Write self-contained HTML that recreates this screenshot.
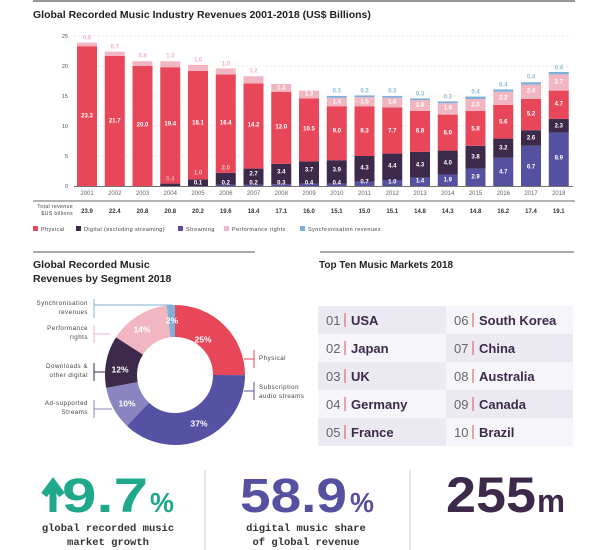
<!DOCTYPE html>
<html><head><meta charset="utf-8"><style>
html,body{margin:0;padding:0;background:#fff;}
svg{display:block;font-family:"Liberation Sans",sans-serif;}
.yl{font-size:5.5px;fill:#555;text-anchor:end}
.yr{font-size:6px;fill:#666;text-anchor:middle}
.tv{font-size:6px;fill:#333;font-weight:bold;text-anchor:middle}
.w{font-size:6px;fill:#fff;font-weight:bold;text-anchor:middle;dominant-baseline:middle}
.pk{font-size:6px;fill:#f2b6c3;font-weight:bold;text-anchor:middle;dominant-baseline:middle}
.bl{font-size:6px;fill:#8cbcd8;font-weight:bold;text-anchor:middle;dominant-baseline:middle}
.lg{font-size:5.5px;fill:#444;letter-spacing:0.4px}
.dl{font-size:6.2px;fill:#444;letter-spacing:0.5px}
.pc{font-size:8.5px;fill:#fff;font-weight:bold;text-anchor:middle;dominant-baseline:middle}
.num{font-size:13px;fill:#666}
.nm{font-size:13px;fill:#3d2a4a;font-weight:bold}
.sub{font-family:"Liberation Mono",monospace;font-size:10.5px;fill:#333;font-weight:bold;text-anchor:middle}
</style></head><body>
<svg width="600" height="550" viewBox="0 0 600 550">
<line x1="33" y1="1" x2="575" y2="1" stroke="#777" stroke-width="1.5"/>
<text x="33" y="18" font-size="10.5" font-weight="bold" fill="#222">Global Recorded Music Industry Revenues 2001-2018 (US$ Billions)</text>
<g stroke="#ddd" stroke-dasharray="2,2" stroke-width="0.6">
<line x1="74" y1="36" x2="573" y2="36"/><line x1="74" y1="66" x2="573" y2="66"/><line x1="74" y1="96" x2="573" y2="96"/><line x1="74" y1="126" x2="573" y2="126"/><line x1="74" y1="156" x2="573" y2="156"/></g>
<text class="yl" x="68" y="38">25</text><text class="yl" x="68" y="68">20</text><text class="yl" x="68" y="98">15</text><text class="yl" x="68" y="128">10</text><text class="yl" x="68" y="158">5</text><text class="yl" x="68" y="188">0</text>
<line x1="74" y1="186.5" x2="573" y2="186.5" stroke="#444" stroke-width="0.8"/>
<!-- bars -->
<g transform="translate(77,0)"><rect y="46.2" width="20" height="139.8" fill="#e8475a"/><rect y="42.6" width="20" height="3.6" fill="#f2b6c3"/><text class="w" x="10" y="116">23.3</text><text class="pk" x="10" y="38">0.6</text></g>
<g transform="translate(104.75,0)"><rect y="55.8" width="20" height="130.2" fill="#e8475a"/><rect y="51.6" width="20" height="4.2" fill="#f2b6c3"/><text class="w" x="10" y="121">21.7</text><text class="pk" x="10" y="47">0.7</text></g>
<g transform="translate(132.5,0)"><rect y="66" width="20" height="120" fill="#e8475a"/><rect y="61.2" width="20" height="4.8" fill="#f2b6c3"/><text class="w" x="10" y="125">20.0</text><text class="pk" x="10" y="56">0.8</text></g>
<g transform="translate(160.25,0)"><rect y="183.6" width="20" height="2.4" fill="#3d2a4a"/><rect y="67.2" width="20" height="116.4" fill="#e8475a"/><rect y="61.2" width="20" height="6" fill="#f2b6c3"/><text class="w" x="10" y="124">19.4</text><text class="pk" x="10" y="56">1.0</text><text class="w" x="10" y="179" style="fill:#e8a0a8">0.4</text></g>
<g transform="translate(188,0)"><rect y="179.4" width="20" height="6.6" fill="#3d2a4a"/><rect y="70.8" width="20" height="108.6" fill="#e8475a"/><rect y="64.8" width="20" height="6" fill="#f2b6c3"/><text class="w" x="10" y="123">18.1</text><text class="pk" x="10" y="60">1.0</text><text class="w" x="10" y="173" style="fill:#f4c0c6">1.0</text><text class="w" x="10" y="183">0.1</text></g>
<g transform="translate(215.75,0)"><rect y="184.8" width="20" height="1.2" fill="#5551a0"/><rect y="172.8" width="20" height="12" fill="#3d2a4a"/><rect y="74.4" width="20" height="98.4" fill="#e8475a"/><rect y="68.4" width="20" height="6" fill="#f2b6c3"/><text class="w" x="10" y="123">16.4</text><text class="pk" x="10" y="64">1.0</text><text class="w" x="10" y="168" style="fill:#f4c0c6">2.0</text><text class="w" x="10" y="183">0.2</text></g>
<g transform="translate(243.5,0)"><rect y="184.8" width="20" height="1.2" fill="#5551a0"/><rect y="168.6" width="20" height="16.2" fill="#3d2a4a"/><rect y="83.4" width="20" height="85.2" fill="#e8475a"/><rect y="76.2" width="20" height="7.2" fill="#f2b6c3"/><text class="w" x="10" y="125">14.2</text><text class="pk" x="10" y="71">1.2</text><text class="w" x="10" y="174">2.7</text><text class="w" x="10" y="183">0.2</text></g>
<g transform="translate(271.25,0)"><rect y="184.2" width="20" height="1.8" fill="#5551a0"/><rect y="163.8" width="20" height="20.4" fill="#3d2a4a"/><rect y="91.8" width="20" height="72" fill="#e8475a"/><rect y="84" width="20" height="7.8" fill="#f2b6c3"/><text class="w" x="10" y="127">12.0</text><text class="w" x="10" y="88">1.3</text><text class="w" x="10" y="172">3.4</text><text class="w" x="10" y="183">0.3</text></g>
<g transform="translate(299,0)"><rect y="183.6" width="20" height="2.4" fill="#5551a0"/><rect y="161.4" width="20" height="22.2" fill="#3d2a4a"/><rect y="98.4" width="20" height="63" fill="#e8475a"/><rect y="90.6" width="20" height="7.8" fill="#f2b6c3"/><text class="w" x="10" y="129">10.5</text><text class="w" x="10" y="94">1.3</text><text class="w" x="10" y="170">3.7</text><text class="w" x="10" y="183">0.4</text></g>
<g transform="translate(326.75,0)"><rect y="183.6" width="20" height="2.4" fill="#5551a0"/><rect y="160.2" width="20" height="23.4" fill="#3d2a4a"/><rect y="106.2" width="20" height="54" fill="#e8475a"/><rect y="97.8" width="20" height="8.4" fill="#f2b6c3"/><rect y="96" width="20" height="1.8" fill="#7fb0d8"/><text class="w" x="10" y="131">9.0</text><text class="w" x="10" y="102">1.4</text><text class="bl" x="10" y="91">0.3</text><text class="w" x="10" y="170">3.9</text><text class="w" x="10" y="183">0.4</text></g>
<g transform="translate(354.5,0)"><rect y="181.8" width="20" height="4.2" fill="#5551a0"/><rect y="156" width="20" height="25.8" fill="#3d2a4a"/><rect y="106.2" width="20" height="49.8" fill="#e8475a"/><rect y="97.2" width="20" height="9" fill="#f2b6c3"/><rect y="95.4" width="20" height="1.8" fill="#7fb0d8"/><text class="w" x="10" y="131">8.3</text><text class="w" x="10" y="102">1.5</text><text class="bl" x="10" y="91">0.3</text><text class="w" x="10" y="168">4.3</text><text class="w" x="10" y="182">0.7</text></g>
<g transform="translate(382.25,0)"><rect y="180" width="20" height="6" fill="#5551a0"/><rect y="153.6" width="20" height="26.4" fill="#3d2a4a"/><rect y="107.4" width="20" height="46.2" fill="#e8475a"/><rect y="97.8" width="20" height="9.6" fill="#f2b6c3"/><rect y="96" width="20" height="1.8" fill="#7fb0d8"/><text class="w" x="10" y="131">7.7</text><text class="w" x="10" y="102">1.6</text><text class="bl" x="10" y="91">0.3</text><text class="w" x="10" y="166">4.4</text><text class="w" x="10" y="182">1.0</text></g>
<g transform="translate(410,0)"><rect y="177.6" width="20" height="8.4" fill="#5551a0"/><rect y="151.8" width="20" height="25.8" fill="#3d2a4a"/><rect y="111" width="20" height="40.8" fill="#e8475a"/><rect y="100.2" width="20" height="10.8" fill="#f2b6c3"/><rect y="98.4" width="20" height="1.8" fill="#7fb0d8"/><text class="w" x="10" y="131">6.8</text><text class="w" x="10" y="105">1.8</text><text class="bl" x="10" y="94">0.3</text><text class="w" x="10" y="165">4.3</text><text class="w" x="10" y="181">1.4</text></g>
<g transform="translate(437.75,0)"><rect y="174.6" width="20" height="11.4" fill="#5551a0"/><rect y="150.6" width="20" height="24" fill="#3d2a4a"/><rect y="114.6" width="20" height="36" fill="#e8475a"/><rect y="103.2" width="20" height="11.4" fill="#f2b6c3"/><rect y="101.4" width="20" height="1.8" fill="#7fb0d8"/><text class="w" x="10" y="133">6.0</text><text class="w" x="10" y="108">1.9</text><text class="bl" x="10" y="97">0.3</text><text class="w" x="10" y="163">4.0</text><text class="w" x="10" y="180">1.9</text></g>
<g transform="translate(465.5,0)"><rect y="168.6" width="20" height="17.4" fill="#5551a0"/><rect y="145.8" width="20" height="22.8" fill="#3d2a4a"/><rect y="111" width="20" height="34.8" fill="#e8475a"/><rect y="99" width="20" height="12" fill="#f2b6c3"/><rect y="96.6" width="20" height="2.4" fill="#7fb0d8"/><text class="w" x="10" y="129">5.8</text><text class="w" x="10" y="105">2.0</text><text class="bl" x="10" y="92">0.4</text><text class="w" x="10" y="157">3.8</text><text class="w" x="10" y="177">2.9</text></g>
<g transform="translate(493.25,0)"><rect y="157.8" width="20" height="28.2" fill="#5551a0"/><rect y="138.6" width="20" height="19.2" fill="#3d2a4a"/><rect y="105" width="20" height="33.6" fill="#e8475a"/><rect y="91.8" width="20" height="13.2" fill="#f2b6c3"/><rect y="89.4" width="20" height="2.4" fill="#7fb0d8"/><text class="w" x="10" y="122">5.6</text><text class="w" x="10" y="98">2.2</text><text class="bl" x="10" y="85">0.4</text><text class="w" x="10" y="148">3.2</text><text class="w" x="10" y="172">4.7</text></g>
<g transform="translate(521,0)"><rect y="145.8" width="20" height="40.2" fill="#5551a0"/><rect y="130.2" width="20" height="15.6" fill="#3d2a4a"/><rect y="99" width="20" height="31.2" fill="#e8475a"/><rect y="84.6" width="20" height="14.4" fill="#f2b6c3"/><rect y="82.2" width="20" height="2.4" fill="#7fb0d8"/><text class="w" x="10" y="114">5.2</text><text class="w" x="10" y="91">2.4</text><text class="bl" x="10" y="77">0.4</text><text class="w" x="10" y="138">2.6</text><text class="w" x="10" y="167">6.7</text></g>
<g transform="translate(548.75,0)"><rect y="132.6" width="20" height="53.4" fill="#5551a0"/><rect y="118.8" width="20" height="13.8" fill="#3d2a4a"/><rect y="90.6" width="20" height="28.2" fill="#e8475a"/><rect y="74.4" width="20" height="16.2" fill="#f2b6c3"/><rect y="72" width="20" height="2.4" fill="#7fb0d8"/><text class="w" x="10" y="104">4.7</text><text class="w" x="10" y="82">2.7</text><text class="bl" x="10" y="68">0.4</text><text class="w" x="10" y="126">2.3</text><text class="w" x="10" y="158">8.9</text></g>
<!-- years -->
<g class="yr"><text x="87" y="195">2001</text><text x="114.75" y="195">2002</text><text x="142.5" y="195">2003</text><text x="170.25" y="195">2004</text><text x="198" y="195">2005</text><text x="225.75" y="195">2006</text><text x="253.5" y="195">2007</text><text x="281.25" y="195">2008</text><text x="309" y="195">2009</text><text x="336.75" y="195">2010</text><text x="364.5" y="195">2011</text><text x="392.25" y="195">2012</text><text x="420" y="195">2013</text><text x="447.75" y="195">2014</text><text x="475.5" y="195">2015</text><text x="503.25" y="195">2016</text><text x="531" y="195">2017</text><text x="558.75" y="195">2018</text></g>
<line x1="33" y1="201" x2="575" y2="201" stroke="#888" stroke-width="1.2"/>
<text x="73" y="208" font-size="5.3" fill="#444" text-anchor="end" letter-spacing="0.3">Total revenue</text>
<text x="73" y="215" font-size="5.3" fill="#444" text-anchor="end" letter-spacing="0.3">$US billions</text>
<g class="tv"><text x="87" y="213">23.9</text><text x="114.75" y="213">22.4</text><text x="142.5" y="213">20.8</text><text x="170.25" y="213">20.8</text><text x="198" y="213">20.2</text><text x="225.75" y="213">19.6</text><text x="253.5" y="213">18.4</text><text x="281.25" y="213">17.1</text><text x="309" y="213">16.0</text><text x="336.75" y="213">15.1</text><text x="364.5" y="213">15.0</text><text x="392.25" y="213">15.1</text><text x="420" y="213">14.8</text><text x="447.75" y="213">14.3</text><text x="475.5" y="213">14.8</text><text x="503.25" y="213">16.2</text><text x="531" y="213">17.4</text><text x="558.75" y="213">19.1</text></g>
<!-- legend -->
<rect x="33" y="226" width="5" height="5" fill="#e8475a"/><text class="lg" x="41" y="231">Physical</text>
<rect x="76" y="226" width="5" height="5" fill="#3d2a4a"/><text class="lg" x="84" y="231">Digital (excluding streaming)</text>
<rect x="178" y="226" width="5" height="5" fill="#5551a0"/><text class="lg" x="186" y="231">Streaming</text>
<rect x="224" y="226" width="5" height="5" fill="#f2b6c3"/><text class="lg" x="232" y="231">Performance rights</text>
<rect x="300" y="226" width="5" height="5" fill="#7fb0d8"/><text class="lg" x="308" y="231">Synchronisation revenues</text>
<!-- donut section -->
<line x1="33" y1="252" x2="255" y2="252" stroke="#777" stroke-width="1.2"/>
<text x="33" y="268" font-size="10.5" font-weight="bold" fill="#222">Global Recorded Music</text>
<text x="33" y="282" font-size="10.5" font-weight="bold" fill="#222">Revenues by Segment 2018</text>
<g transform="translate(175,375) rotate(-90)" fill="none" stroke-width="32">
<circle r="54" stroke="#e8475a" stroke-dasharray="84.8 400" stroke-dashoffset="0"/>
<circle r="54" stroke="#5652a3" stroke-dasharray="125.5 400" stroke-dashoffset="-84.8"/>
<circle r="54" stroke="#8a84c0" stroke-dasharray="33.9 400" stroke-dashoffset="-210.3"/>
<circle r="54" stroke="#3d2a4a" stroke-dasharray="40.7 400" stroke-dashoffset="-244.2"/>
<circle r="54" stroke="#f2b6c3" stroke-dasharray="47.5 400" stroke-dashoffset="-284.9"/>
<circle r="54" stroke="#7fb0d8" stroke-dasharray="6.9 400" stroke-dashoffset="-332.4"/>
</g>
<text class="pc" x="203" y="340">25%</text><text class="pc" x="199" y="424">37%</text><text class="pc" x="127" y="404">10%</text><text class="pc" x="120" y="370">12%</text><text class="pc" x="142" y="330">14%</text><text class="pc" x="172" y="321">2%</text>
<g class="dl" text-anchor="end">
<text x="88" y="305">Synchronisation</text><text x="88" y="314">revenues</text>
<text x="88" y="330">Performance</text><text x="88" y="339">rights</text>
<text x="88" y="368">Downloads &amp;</text><text x="88" y="377">other digital</text>
<text x="88" y="405">Ad-supported</text><text x="88" y="414">Streams</text></g>
<g stroke-width="1">
<path d="M94 299V318M94 305H172V312" stroke="#7fb0d8" fill="none"/>
<path d="M94 325V343M94 334H110" stroke="#f2b6c3" fill="none"/>
<path d="M94 363V381M94 372H106" stroke="#3d2a4a" fill="none"/>
<path d="M94 400V418M94 409H112" stroke="#8a84c0" fill="none"/>
<path d="M254 350V368M244 359H254" stroke="#e8475a" fill="none"/>
<path d="M254 382V400M244 391H254" stroke="#5652a3" fill="none"/></g>
<g class="dl"><text x="259" y="360">Physical</text><text x="259" y="389">Subscription</text><text x="259" y="398">audio streams</text></g>
<!-- top ten -->
<line x1="320" y1="252" x2="574" y2="252" stroke="#777" stroke-width="1.2"/>
<text x="319" y="268" font-size="10" font-weight="bold" fill="#222">Top Ten Music Markets 2018</text>
<rect x="318" y="306" width="128" height="28" fill="#ebeaf3"/><rect x="446" y="306" width="127" height="28" fill="#f6f5fa"/>
<rect x="318" y="334" width="128" height="28" fill="#f6f5fa"/><rect x="446" y="334" width="127" height="28" fill="#ebeaf3"/>
<rect x="318" y="362" width="128" height="28" fill="#ebeaf3"/><rect x="446" y="362" width="127" height="28" fill="#f6f5fa"/>
<rect x="318" y="390" width="128" height="28" fill="#f6f5fa"/><rect x="446" y="390" width="127" height="28" fill="#ebeaf3"/>
<rect x="318" y="418" width="128" height="28" fill="#ebeaf3"/><rect x="446" y="418" width="127" height="28" fill="#f6f5fa"/>
<g stroke="#e8475a" stroke-width="1">
<line x1="345" y1="313" x2="345" y2="327"/><line x1="345" y1="341" x2="345" y2="355"/><line x1="345" y1="369" x2="345" y2="383"/><line x1="345" y1="397" x2="345" y2="411"/><line x1="345" y1="425" x2="345" y2="439"/>
<line x1="473" y1="313" x2="473" y2="327"/><line x1="473" y1="341" x2="473" y2="355"/><line x1="473" y1="369" x2="473" y2="383"/><line x1="473" y1="397" x2="473" y2="411"/><line x1="473" y1="425" x2="473" y2="439"/></g>
<g class="num"><text x="326" y="325">01</text><text x="326" y="353">02</text><text x="326" y="381">03</text><text x="326" y="409">04</text><text x="326" y="437">05</text><text x="454" y="325">06</text><text x="454" y="353">07</text><text x="454" y="381">08</text><text x="454" y="409">09</text><text x="454" y="437">10</text></g>
<g class="nm"><text x="351" y="325">USA</text><text x="351" y="353">Japan</text><text x="351" y="381">UK</text><text x="351" y="409">Germany</text><text x="351" y="437">France</text><text x="479" y="325">South Korea</text><text x="479" y="353">China</text><text x="479" y="381">Australia</text><text x="479" y="409">Canada</text><text x="479" y="437">Brazil</text></g>
<!-- stats -->
<line x1="205" y1="470" x2="205" y2="550" stroke="#ccc" stroke-width="1"/>
<line x1="410" y1="470" x2="410" y2="550" stroke="#ccc" stroke-width="1"/>
<path d="M53 512V486M44 495L53 483L62 495" stroke="#1fa98a" stroke-width="7" fill="none"/>
<text x="62" y="512" font-size="48" font-weight="bold" fill="#1fa98a" textLength="86" lengthAdjust="spacingAndGlyphs">9.7</text>
<text x="150" y="512" font-size="28" font-weight="bold" fill="#1fa98a" textLength="24" lengthAdjust="spacingAndGlyphs">%</text>
<text x="240" y="512" font-size="48" font-weight="bold" fill="#5551a0" textLength="107" lengthAdjust="spacingAndGlyphs">58.9</text>
<text x="350" y="512" font-size="28" font-weight="bold" fill="#5551a0" textLength="24" lengthAdjust="spacingAndGlyphs">%</text>
<text x="446" y="512" font-size="50" font-weight="bold" fill="#3d2a4a" textLength="90" lengthAdjust="spacingAndGlyphs">255</text>
<text x="537" y="512" font-size="32" font-weight="bold" fill="#3d2a4a" textLength="28" lengthAdjust="spacingAndGlyphs">m</text>
<text class="sub" x="108" y="531">global recorded music</text>
<text class="sub" x="108" y="545">market growth</text>
<text class="sub" x="306" y="531">digital music share</text>
<text class="sub" x="306" y="545">of global revenue</text>
</svg>
</body></html>
